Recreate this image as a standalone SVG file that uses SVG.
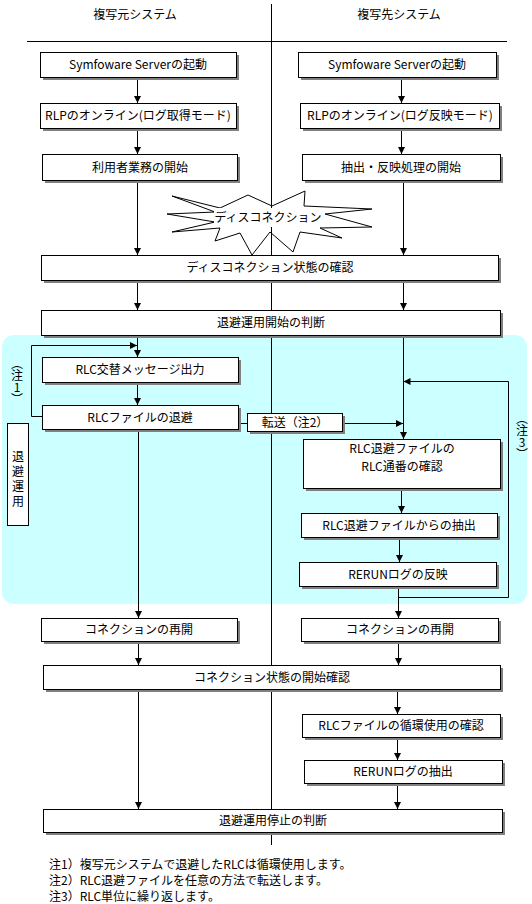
<svg xmlns="http://www.w3.org/2000/svg" width="532" height="904" viewBox="0 0 532 904">
<style>
text{font-family:"Noto Sans CJK JP","Noto Sans",sans-serif;font-size:12px;fill:#000}
.c{text-anchor:middle}
.v{text-anchor:middle;writing-mode:vertical-rl;text-orientation:upright}
.box{fill:#fff;stroke:#000;stroke-width:1}
.sh{fill:#808080}
.ln{fill:none;stroke:#000;stroke-width:1}
.ar{fill:none;stroke:#000;stroke-width:1;marker-end:url(#ah)}
</style>
<defs>
<marker id="ah" viewBox="0 0 8 8" refX="8" refY="4" markerWidth="7" markerHeight="7" orient="auto" markerUnits="userSpaceOnUse">
<path d="M0,0 L8,4 L0,8 z" fill="#000"/>
</marker>
</defs>
<rect width="532" height="904" fill="#fff"/>
<rect id="evac-area" x="2" y="335" width="525" height="269" rx="12" fill="#ccffff"/>
<g id="frame">
<line class="ln" x1="271.5" y1="4" x2="271.5" y2="845"/>
<line class="ln" x1="27" y1="41.5" x2="507" y2="41.5"/>
<text class="c" x="135" y="19">複写元システム</text>
<text class="c" x="399" y="19">複写先システム</text>
</g>
<g id="disconnect">
<polygon class="ln" points="172,196 220,208 248,195 272,206 305,191 304,206 372,209 325,214 372,227 320,228 342,238 300,232 293,252 270,232 252,255 240,233 215,241 220,228 172,232 215,222 167,214 215,212"/>
<rect x="214" y="208" width="106" height="19" fill="#fff"/>
<text class="c" x="268" y="222">ディスコネクション</text>
</g>
<g id="connectors">
<path class="ar" d="M137.5,77 V103"/>
<path class="ar" d="M401.5,77 V103"/>
<path class="ar" d="M137.5,128 V154"/>
<path class="ar" d="M401.5,128 V154"/>
<path class="ar" d="M137.5,180 V255"/>
<path class="ar" d="M403.5,180 V255"/>
<path class="ar" d="M137.5,280 V310"/>
<path class="ar" d="M403.5,280 V310"/>
<path class="ar" d="M137.5,335 V357"/>
<path class="ar" d="M137.5,382 V405"/>
<path class="ar" d="M42,416.5 H31.5 V345.5 H137"/>
<path class="ar" d="M138.5,429 V618"/>
<path class="ln" d="M238,423.5 H247"/>
<path class="ar" d="M342,423.5 H403"/>
<path class="ar" d="M403.5,335 V439"/>
<path class="ar" d="M398.5,586 V597.5 H508.5 V381.5 H403.5"/>
<path class="ar" d="M401.5,488 V513"/>
<path class="ar" d="M399.5,537 V562"/>
<path class="ar" d="M398.5,597 V618"/>
<path class="ar" d="M138.5,641 V665"/>
<path class="ar" d="M398.5,641 V665"/>
<path class="ar" d="M138.5,689 V809"/>
<path class="ar" d="M397.5,689 V714"/>
<path class="ar" d="M397.5,737 V760"/>
<path class="ar" d="M397.5,783 V809"/>
</g>
<g id="n1"><rect class="sh" x="43" y="55" width="196" height="25"/><rect class="box" x="40.5" y="52.5" width="196" height="25"/><text class="c" x="138" y="69">Symfoware Serverの起動</text></g>
<g id="n2"><rect class="sh" x="301" y="55" width="198" height="25"/><rect class="box" x="298.5" y="52.5" width="198" height="25"/><text class="c" x="397" y="69">Symfoware Serverの起動</text></g>
<g id="n3"><rect class="sh" x="43" y="106" width="196" height="25"/><rect class="box" x="40.5" y="103.5" width="196" height="25"/><text class="c" x="138" y="120">RLPのオンライン(ログ取得モード)</text></g>
<g id="n4"><rect class="sh" x="303" y="106" width="199" height="25"/><rect class="box" x="300.5" y="103.5" width="199" height="25"/><text class="c" x="400" y="120">RLPのオンライン(ログ反映モード)</text></g>
<g id="n5"><rect class="sh" x="45" y="157" width="195" height="26"/><rect class="box" x="42.5" y="154.5" width="195" height="26"/><text class="c" x="140" y="172">利用者業務の開始</text></g>
<g id="n6"><rect class="sh" x="305" y="157" width="198" height="26"/><rect class="box" x="302.5" y="154.5" width="198" height="26"/><text class="c" x="401" y="172">抽出・反映処理の開始</text></g>
<g id="n7"><rect class="sh" x="44" y="258" width="457" height="25"/><rect class="box" x="41.5" y="255.5" width="457" height="25"/><text class="c" x="270" y="272">ディスコネクション状態の確認</text></g>
<g id="n8"><rect class="sh" x="44" y="313" width="459" height="25"/><rect class="box" x="41.5" y="310.5" width="459" height="25"/><text class="c" x="271" y="327">退避運用開始の判断</text></g>
<g id="n9"><rect class="sh" x="45" y="360" width="196" height="25"/><rect class="box" x="42.5" y="357.5" width="196" height="25"/><text class="c" x="140" y="374">RLC交替メッセージ出力</text></g>
<g id="n10"><rect class="sh" x="45" y="408" width="196" height="24"/><rect class="box" x="42.5" y="405.5" width="196" height="24"/><text class="c" x="140" y="422">RLCファイルの退避</text></g>
<g id="n11"><rect class="sh" x="250" y="416" width="95" height="18"/><rect class="box" x="247.5" y="413.5" width="95" height="18"/><text class="c" x="295" y="427">転送（注2）</text></g>
<g id="n12"><rect class="box" x="7.5" y="423.5" width="21" height="102"/>
<text class="v" x="18" y="480" style="letter-spacing:3px">退避運用</text></g>
<g id="note1-label">
<text class="v" x="17" y="381">︵注1︶</text>
</g>
<g id="note3-label">
<text class="v" x="522" y="436">︵注3︶</text>
</g>
<g id="n13"><rect class="sh" x="306" y="442" width="197" height="49"/><rect class="box" x="303.5" y="439.5" width="197" height="49"/><text class="c" x="402" y="453">RLC退避ファイルの</text><text class="c" x="402" y="471">RLC通番の確認</text></g>
<g id="n14"><rect class="sh" x="304" y="516" width="196" height="24"/><rect class="box" x="301.5" y="513.5" width="196" height="24"/><text class="c" x="399" y="530">RLC退避ファイルからの抽出</text></g>
<g id="n15"><rect class="sh" x="302" y="565" width="197" height="24"/><rect class="box" x="299.5" y="562.5" width="197" height="24"/><text class="c" x="398" y="579">RERUNログの反映</text></g>
<g id="n16"><rect class="sh" x="44" y="621" width="196" height="23"/><rect class="box" x="41.5" y="618.5" width="196" height="23"/><text class="c" x="139" y="634">コネクションの再開</text></g>
<g id="n17"><rect class="sh" x="304" y="621" width="197" height="23"/><rect class="box" x="301.5" y="618.5" width="197" height="23"/><text class="c" x="400" y="634">コネクションの再開</text></g>
<g id="n18"><rect class="sh" x="46" y="668" width="457" height="24"/><rect class="box" x="43.5" y="665.5" width="457" height="24"/><text class="c" x="272" y="682">コネクション状態の開始確認</text></g>
<g id="n19"><rect class="sh" x="305" y="717" width="198" height="23"/><rect class="box" x="302.5" y="714.5" width="198" height="23"/><text class="c" x="401" y="730">RLCファイルの循環使用の確認</text></g>
<g id="n20"><rect class="sh" x="307" y="763" width="198" height="23"/><rect class="box" x="304.5" y="760.5" width="198" height="23"/><text class="c" x="403" y="776">RERUNログの抽出</text></g>
<g id="n21"><rect class="sh" x="46" y="812" width="459" height="23"/><rect class="box" x="43.5" y="809.5" width="459" height="23"/><text class="c" x="273" y="825">退避運用停止の判断</text></g>
<g id="notes">
<text x="49" y="869">注1）複写元システムで退避したRLCは循環使用します。</text>
<text x="49" y="885">注2）RLC退避ファイルを任意の方法で転送します。</text>
<text x="49" y="901">注3）RLC単位に繰り返します。</text>
</g>
</svg>
